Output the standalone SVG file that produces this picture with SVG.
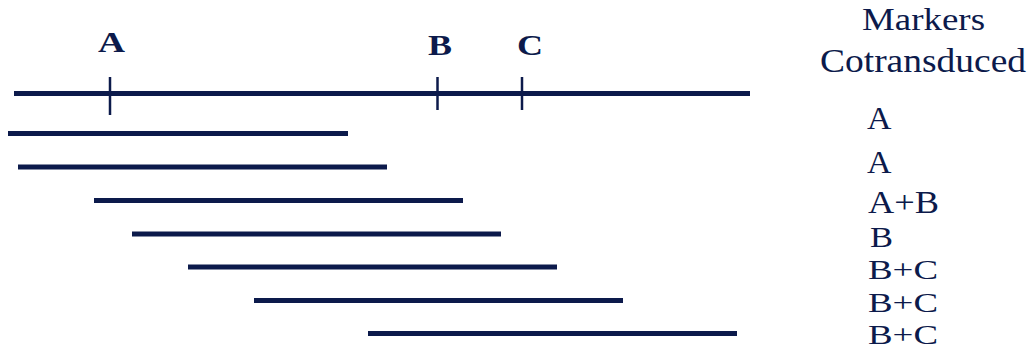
<svg xmlns="http://www.w3.org/2000/svg" width="1032" height="354" viewBox="0 0 1032 354">
<style>
.ln{stroke:#0c1a4b;stroke-width:5;fill:none}
.tk{stroke:#0c1a4b;stroke-width:2.5;fill:none}
.lb{font-family:"Liberation Serif","Times New Roman",serif;font-weight:bold;fill:#0c1a4b;font-size:30px}
.rt{font-family:"Liberation Serif","Times New Roman",serif;fill:#0c1a4b}
</style>
<rect width="1032" height="354" fill="#ffffff"/>
<g id="chromosome">
<line class="ln" x1="14" y1="93.5" x2="750" y2="93.5"/>
<line class="tk" x1="110" y1="77" x2="110" y2="115"/>
<line class="tk" x1="437.5" y1="77" x2="437.5" y2="110"/>
<line class="tk" x1="522" y1="77" x2="522" y2="110"/>
<text class="lb" x="98" y="52" textLength="27" lengthAdjust="spacingAndGlyphs">A</text>
<text class="lb" x="428" y="55" textLength="24" lengthAdjust="spacingAndGlyphs">B</text>
<text class="lb" x="517" y="55" textLength="26" lengthAdjust="spacingAndGlyphs">C</text>
</g>
<g id="fragments">
<line class="ln" x1="8" y1="133.5" x2="348" y2="133.5"/>
<line class="ln" x1="18" y1="167" x2="387" y2="167"/>
<line class="ln" x1="94" y1="200.5" x2="463" y2="200.5"/>
<line class="ln" x1="132" y1="234" x2="501" y2="234"/>
<line class="ln" x1="188" y1="267" x2="557" y2="267"/>
<line class="ln" x1="254" y1="300.5" x2="623" y2="300.5"/>
<line class="ln" x1="368" y1="333.5" x2="737" y2="333.5"/>
</g>
<g id="results">
<text class="rt" x="862" y="30" font-size="31" textLength="123" lengthAdjust="spacingAndGlyphs">Markers</text>
<text class="rt" x="820" y="72" font-size="33" textLength="206" lengthAdjust="spacingAndGlyphs">Cotransduced</text>
<text class="rt" x="867" y="128.5" font-size="31" textLength="24.5" lengthAdjust="spacingAndGlyphs">A</text>
<text class="rt" x="867" y="172.5" font-size="31" textLength="24.5" lengthAdjust="spacingAndGlyphs">A</text>
<text class="rt" x="868" y="212.5" font-size="31" textLength="71" lengthAdjust="spacingAndGlyphs">A+B</text>
<text class="rt" x="870" y="246.5" font-size="29" textLength="23" lengthAdjust="spacingAndGlyphs">B</text>
<text class="rt" x="868" y="278.5" font-size="28" textLength="70" lengthAdjust="spacingAndGlyphs">B+C</text>
<text class="rt" x="868" y="311.5" font-size="28" textLength="70" lengthAdjust="spacingAndGlyphs">B+C</text>
<text class="rt" x="868" y="344" font-size="28" textLength="70" lengthAdjust="spacingAndGlyphs">B+C</text>
</g>
</svg>
